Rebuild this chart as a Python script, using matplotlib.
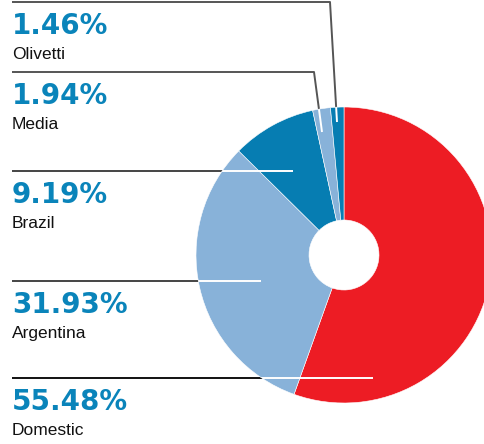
import matplotlib.pyplot as plt
from matplotlib.patches import Circle

# Data
labels = ['Domestic', 'Argentina', 'Brazil', 'Media', 'Olivetti']
shares = [55.48, 31.93, 9.19, 1.94, 1.46]
colors = ['#ED1C24', '#88B2D9', '#067DB2', '#88B2D9', '#067DB2']

# Leader lines (pixel coords, y down), one per label
leaders = {
    'Olivetti':  [(12, 2), (330, 2), (337, 122)],
    'Media':     [(12, 72), (314, 72), (322, 132)],
    'Brazil':    [(12, 171), (293, 171)],
    'Argentina': [(12, 281), (261, 281)],
    'Domestic':  [(12, 378), (373, 378)],
}
line_colors = {'Olivetti': '#555555', 'Media': '#555555', 'Brazil': '#444444',
               'Argentina': '#444444', 'Domestic': '#111111'}

W, H = 485, 444
fig = plt.figure(figsize=(W / 100, H / 100), dpi=100)
ax = fig.add_axes([0, 0, 1, 1])

cx, cy, R, r_hole = 344, H - 255, 148, 35

wedges, _ = ax.pie(shares, colors=colors, startangle=90, counterclock=False,
                   center=(cx, cy), radius=R, frame=True,
                   wedgeprops=dict(width=R - r_hole, edgecolor='white', linewidth=0.4))
ax.set_xlim(0, W)
ax.set_ylim(0, H)
ax.set_aspect('equal')
ax.axis('off')

clip = Circle((cx, cy), R, transform=ax.transData)

for lab, pct in zip(labels, shares):
    pts = leaders[lab]
    xs = [p[0] for p in pts]
    ys = [H - p[1] for p in pts]
    # dark part sits under the pie, white part only shows inside it
    ax.plot(xs, ys, color=line_colors[lab], lw=1.4, zorder=0, solid_capstyle='butt')
    wl, = ax.plot(xs, ys, color='white', lw=1.4, zorder=5, solid_capstyle='butt')
    wl.set_clip_path(clip)

    y0 = pts[0][1]
    ax.text(12, H - (y0 + 32), '{:.2f}%'.format(pct), color='#0A84BA',
            fontsize=20, fontweight='bold', family='DejaVu Sans', va='baseline', ha='left')
    ax.text(12, H - (y0 + 57), lab, color='#111111', fontsize=12.5,
            family='Liberation Sans', va='baseline', ha='left')

fig.savefig('out.png', dpi=100)
